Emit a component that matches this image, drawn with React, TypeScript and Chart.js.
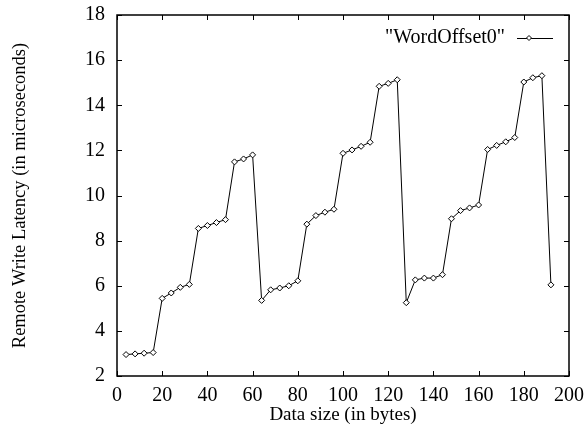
import React, { useEffect, useRef } from "react";
import { Chart, registerables } from "chart.js";

Chart.register(...registerables);

const seriesLabel = '"WordOffset0"';
const dataSizes = [
  4, 8, 12, 16, 20, 24, 28, 32, 36, 40, 44, 48, 52, 56, 60, 64,
  68, 72, 76, 80, 84, 88, 92, 96, 100, 104, 108, 112, 116, 120, 124, 128,
  132, 136, 140, 144, 148, 152, 156, 160, 164, 168, 172, 176, 180, 184, 188, 192,
];
const latencies = [
  2.95, 2.98, 3.01, 3.04, 5.44, 5.68, 5.93, 6.06, 8.54, 8.67, 8.8, 8.93, 11.49, 11.62, 11.8, 5.35,
  5.82, 5.9, 6.0, 6.22, 8.73, 9.11, 9.26, 9.39, 11.87, 12.02, 12.18, 12.36, 14.84, 14.97, 15.13, 5.25,
  6.26, 6.34, 6.34, 6.49, 8.97, 9.33, 9.45, 9.58, 12.04, 12.22, 12.38, 12.57, 15.03, 15.22, 15.31, 6.04,
];
const xTitle = "Data size (in bytes)";
const yTitle = "Remote Write Latency (in microseconds)";
const xMin = 0, xMax = 200, xStep = 20;
const yMin = 2, yMax = 18, yStep = 2;

const FONT = "'Liberation Serif', 'Times New Roman', serif";

const framePlugin = {
  id: "gnuplotFrame",
  afterDraw(chart: any) {
    const { ctx, chartArea } = chart;
    const { left, right, top, bottom } = chartArea;
    const xs = chart.scales.x;
    const ys = chart.scales.y;
    const tl = 5;
    ctx.save();
    ctx.strokeStyle = "#000";
    ctx.lineWidth = 1;
    ctx.beginPath();
    xs.ticks.forEach((t: any) => {
      const px = Math.round(xs.getPixelForValue(t.value)) + 0.5;
      ctx.moveTo(px, bottom);
      ctx.lineTo(px, bottom - tl);
      ctx.moveTo(px, top);
      ctx.lineTo(px, top + tl);
    });
    ys.ticks.forEach((t: any) => {
      const py = Math.round(ys.getPixelForValue(t.value)) + 0.5;
      ctx.moveTo(left, py);
      ctx.lineTo(left + tl, py);
      ctx.moveTo(right, py);
      ctx.lineTo(right - tl, py);
    });
    ctx.stroke();
    ctx.lineWidth = 1.5;
    ctx.strokeRect(left, top, right - left, bottom - top);

    // legend (gnuplot style, top-right inside)
    const ly = top + 23;
    const textRight = right - 64;
    ctx.font = `20px ${FONT}`;
    ctx.fillStyle = "#000";
    ctx.textAlign = "right";
    ctx.textBaseline = "middle";
    ctx.fillText(seriesLabel, textRight, ly);
    ctx.lineWidth = 1;
    ctx.beginPath();
    ctx.moveTo(textRight + 12, ly + 0.5);
    ctx.lineTo(textRight + 48, ly + 0.5);
    ctx.stroke();
    const mx = textRight + 24;
    const r = 2.5;
    ctx.beginPath();
    ctx.moveTo(mx, ly - r);
    ctx.lineTo(mx + r, ly);
    ctx.lineTo(mx, ly + r);
    ctx.lineTo(mx - r, ly);
    ctx.closePath();
    ctx.fillStyle = "#fff";
    ctx.fill();
    ctx.stroke();
    ctx.restore();
  },
};

export default function App() {
  const canvasRef = useRef<HTMLCanvasElement | null>(null);

  useEffect(() => {
    if (!canvasRef.current) return;
    const chart = new Chart(canvasRef.current, {
      type: "line",
      data: {
        datasets: [
          {
            label: seriesLabel,
            data: dataSizes.map((x, i) => ({ x, y: latencies[i] })),
            borderColor: "#000",
            borderWidth: 1,
            pointStyle: "rectRot",
            pointRadius: 3,
            pointBackgroundColor: "#fff",
            pointBorderColor: "#000",
            pointBorderWidth: 1,
            tension: 0,
          },
        ],
      },
      options: {
        animation: false,
        responsive: false,
        maintainAspectRatio: false,
        layout: { padding: { top: 15, right: 17, left: 0, bottom: 0 } },
        plugins: {
          legend: { display: false },
          tooltip: { enabled: false },
        },
        scales: {
          x: {
            type: "linear",
            min: xMin,
            max: xMax,
            ticks: {
              stepSize: xStep,
              color: "#000",
              font: { family: FONT, size: 20 },
              padding: 8,
              maxRotation: 0,
            },
            grid: { display: false, drawTicks: false },
            border: { display: false },
            title: {
              display: true,
              text: xTitle,
              color: "#000",
              font: { family: FONT, size: 19 },
              padding: { top: 0, bottom: 0 },
            },
            afterFit: (s: any) => {
              s.height = 50;
              s.paddingLeft = 0;
              s.paddingRight = 0;
            },
          },
          y: {
            type: "linear",
            min: yMin,
            max: yMax,
            ticks: {
              stepSize: yStep,
              color: "#000",
              font: { family: FONT, size: 20 },
              padding: 12,
            },
            grid: { display: false, drawTicks: false },
            border: { display: false },
            title: {
              display: true,
              text: yTitle,
              color: "#000",
              font: { family: FONT, size: 18.5 },
              padding: { top: 9, bottom: 0 },
            },
            afterFit: (s: any) => {
              s.width = 117;
              s.paddingTop = 0;
              s.paddingBottom = 0;
            },
          },
        },
      },
      plugins: [framePlugin],
    });
    return () => chart.destroy();
  }, []);

  return (
    <div style={{ position: "absolute", left: 0, top: 0, width: 586, height: 426, background: "#fff" }}>
      <canvas ref={canvasRef} width={586} height={426} style={{ width: 586, height: 426 }} />
    </div>
  );
}
